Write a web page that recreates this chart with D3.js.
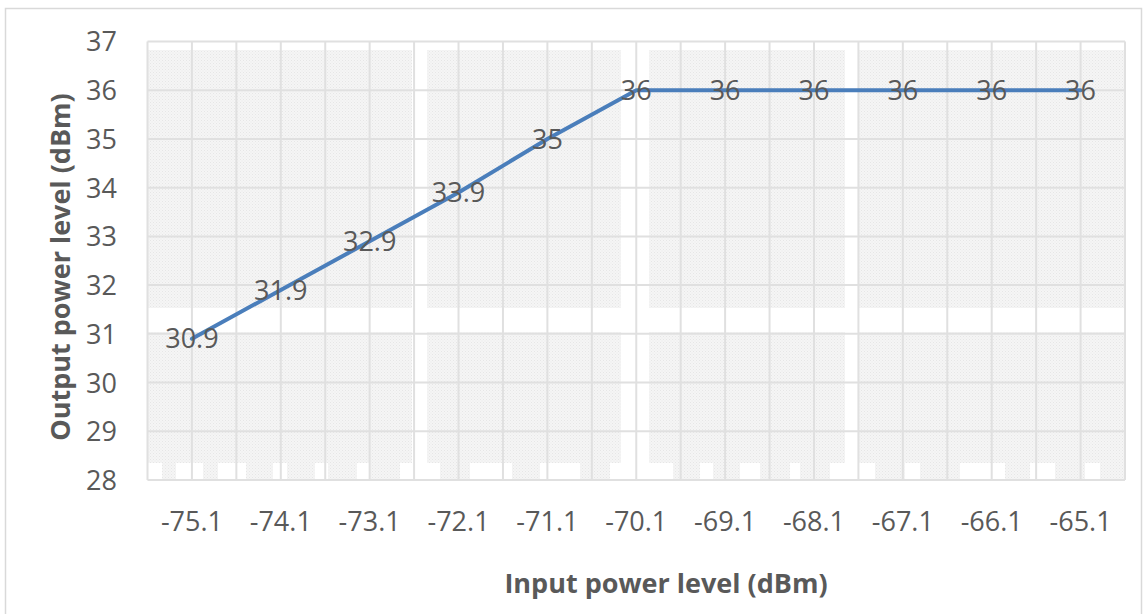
<!DOCTYPE html>
<html>
<head>
<meta charset="utf-8">
<script src="https://cdn.jsdelivr.net/npm/d3@7"></script>
<style>
  html, body { margin: 0; padding: 0; background: #fff; }
  svg { display: block; }
</style>
</head>
<body>
<svg id="chart" width="1148" height="614"></svg>
<script>
// ---- data ----
const categories = ["-75.1", "-74.1", "-73.1", "-72.1", "-71.1", "-70.1", "-69.1", "-68.1", "-67.1", "-66.1", "-65.1"];
const outputValues = [30.9, 31.9, 32.9, 33.9, 35, 36, 36, 36, 36, 36, 36];
const dataLabels = ["30.9", "31.9", "32.9", "33.9", "35", "36", "36", "36", "36", "36", "36"];
const yTicks = [28, 29, 30, 31, 32, 33, 34, 35, 36, 37];
const xTitle = "Input power level (dBm)";
const yTitle = "Output power level (dBm)";

// ---- layout ----
const svg = d3.select("#chart");
const plot = { left: 147.5, right: 1125, top: 41.5, bottom: 480 };
const font = "'Open Sans', 'DejaVu Sans', sans-serif";
const textColor = "#595959";
const gridColor = "#e0e0e0";

// outer chart border
svg.append("rect")
  .attr("x", 5.5).attr("y", 8.5).attr("width", 1136).attr("height", 620)
  .attr("fill", "#fff").attr("stroke", "#d9d9d9").attr("stroke-width", 1.5);

const x = d3.scaleBand().domain(categories).range([plot.left, plot.right]).padding(0);
const y = d3.scaleLinear().domain([28, 37]).range([plot.bottom, plot.top]);

// textured background pattern
const defs = svg.append("defs");
const pat = defs.append("pattern").attr("id", "tex")
  .attr("width", 3).attr("height", 3).attr("patternUnits", "userSpaceOnUse");
pat.append("rect").attr("width", 3).attr("height", 3).attr("fill", "#f5f5f5");
pat.append("rect").attr("x", 0).attr("y", 0).attr("width", 1).attr("height", 1).attr("fill", "#e6e6e6");
pat.append("rect").attr("x", 1.5).attr("y", 1.5).attr("width", 1).attr("height", 1).attr("fill", "#ebebeb");

// background texture blocks (decorative)
const colBlocks = [[147.5, 412], [427, 621], [649, 845], [859, 1125]];
const rowBlocks = [[50, 308], [332, 463]];
const bg = svg.append("g");
colBlocks.forEach(c => rowBlocks.forEach(r => {
  bg.append("rect").attr("x", c[0]).attr("y", r[0])
    .attr("width", c[1] - c[0]).attr("height", r[1] - r[0])
    .attr("fill", "url(#tex)");
}));
const bottomBits = [[162, 176], [203, 218], [246, 273], [287, 315], [328, 357], [370, 400],
  [440, 470], [512, 540], [580, 610], [673, 700], [713, 740], [760, 790], [800, 830],
  [875, 905], [920, 960], [1005, 1030], [1055, 1085], [1100, 1125]];
bottomBits.forEach(b => {
  bg.append("rect").attr("x", b[0]).attr("y", 463).attr("width", b[1] - b[0]).attr("height", 17)
    .attr("fill", "url(#tex)");
});

// gridlines
const grid = svg.append("g");
yTicks.forEach(t => {
  grid.append("line")
    .attr("x1", plot.left).attr("x2", plot.right)
    .attr("y1", y(t)).attr("y2", y(t))
    .attr("stroke", gridColor).attr("stroke-width", 2);
});
const bw = x.bandwidth();
const vLines = [];
categories.forEach(c => { vLines.push(x(c)); vLines.push(x(c) + bw / 2); });
vLines.push(plot.right);
vLines.forEach(v => {
  grid.append("line")
    .attr("x1", v).attr("x2", v)
    .attr("y1", plot.top).attr("y2", plot.bottom)
    .attr("stroke", gridColor).attr("stroke-width", 2);
});

// y axis labels
const yAxis = d3.axisLeft(y).tickValues(yTicks).tickSize(0).tickPadding(0).tickFormat(d3.format("d"));
const gy = svg.append("g").attr("transform", `translate(117,0)`).call(yAxis);
gy.select(".domain").remove();
gy.selectAll("text").attr("font-family", font).attr("font-size", 27).attr("fill", textColor)
  .attr("dy", "0.35em");

// x axis labels
const xAxis = d3.axisBottom(x).tickSize(0).tickPadding(0);
const gx = svg.append("g").attr("transform", `translate(0,522)`).call(xAxis);
gx.select(".domain").remove();
gx.selectAll("text").attr("font-family", font).attr("font-size", 27).attr("fill", textColor)
  .attr("dy", "0.35em");

// line
const pts = categories.map((c, i) => ({ c, v: outputValues[i], l: dataLabels[i] }));
const line = d3.line().x(d => x(d.c) + bw / 2).y(d => y(d.v));
svg.append("path").datum(pts)
  .attr("d", line).attr("fill", "none")
  .attr("stroke", "#4a7ebb").attr("stroke-width", 4)
  .attr("stroke-linejoin", "round").attr("stroke-linecap", "round");

// data labels
svg.append("g").selectAll("text").data(pts).join("text")
  .attr("x", d => x(d.c) + bw / 2).attr("y", d => y(d.v))
  .attr("dy", "0.36em")
  .attr("text-anchor", "middle")
  .attr("font-family", font).attr("font-size", 27).attr("fill", textColor)
  .text(d => d.l);

// axis titles
svg.append("text")
  .attr("x", 666).attr("y", 593)
  .attr("text-anchor", "middle")
  .attr("font-family", font).attr("font-size", 27).attr("font-weight", "bold").attr("fill", textColor)
  .text(xTitle);
svg.append("text")
  .attr("transform", `translate(70,267) rotate(-90)`)
  .attr("text-anchor", "middle")
  .attr("font-family", font).attr("font-size", 27).attr("font-weight", "bold").attr("fill", textColor)
  .text(yTitle);
</script>
</body>
</html>
